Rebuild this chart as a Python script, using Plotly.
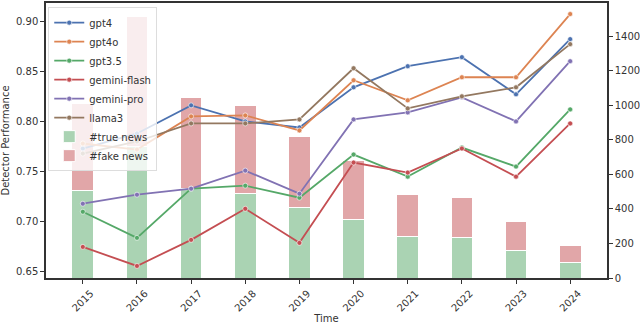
import plotly.graph_objects as go

years = [2015, 2016, 2017, 2018, 2019, 2020, 2021, 2022, 2023, 2024]
gpt4 = [0.773, 0.788, 0.816, 0.800, 0.794, 0.834, 0.855, 0.864, 0.827, 0.882]
gpt4o = [0.778, 0.772, 0.805, 0.806, 0.791, 0.841, 0.821, 0.844, 0.844, 0.907]
gpt35 = [0.710, 0.684, 0.733, 0.736, 0.724, 0.767, 0.745, 0.774, 0.755, 0.812]
gemini_flash = [0.675, 0.656, 0.682, 0.713, 0.679, 0.759, 0.749, 0.773, 0.745, 0.798]
gemini_pro = [0.718, 0.727, 0.733, 0.751, 0.728, 0.802, 0.809, 0.824, 0.800, 0.860]
llama3 = [0.768, 0.780, 0.798, 0.798, 0.802, 0.853, 0.813, 0.825, 0.834, 0.877]
true_news = [506, 762, 521, 492, 409, 339, 242, 233, 161, 87]
fake_news = [506, 755, 527, 506, 413, 341, 241, 234, 165, 101]

series = [
    ("gpt4", gpt4, "#4C72B0"),
    ("gpt4o", gpt4o, "#DD8452"),
    ("gpt3.5", gpt35, "#55A868"),
    ("gemini-flash", gemini_flash, "#C44E52"),
    ("gemini-pro", gemini_pro, "#8172B3"),
    ("llama3", llama3, "#937860"),
]

fig = go.Figure()
for name, vals, col in series:
    fig.add_trace(go.Scatter(
        x=years, y=vals, name=name, mode="lines+markers", yaxis="y2",
        line=dict(color=col, width=1.8),
        marker=dict(size=5, color=col, line=dict(color="white", width=0.6)),
    ))

fig.add_trace(go.Bar(x=years, y=true_news, name="#true news", yaxis="y",
                     width=0.4, marker=dict(color="#AAD3B3", line=dict(color="white", width=1))))
fig.add_trace(go.Bar(x=years, y=fake_news, name="#fake news", yaxis="y",
                     width=0.4, marker=dict(color="#E1A6A8", line=dict(color="white", width=1))))

axcol = "#333333"
fig.update_layout(
    width=640, height=324,
    margin=dict(l=46, r=33, t=3, b=46),
    plot_bgcolor="white", paper_bgcolor="white",
    barmode="stack",
    font=dict(family="DejaVu Sans", size=10, color="#333333"),
    showlegend=True,
    legend=dict(x=0.004, y=0.985, xanchor="left", yanchor="top",
                bgcolor="rgba(255,255,255,0.8)", bordercolor="#DDDDDD", borderwidth=1,
                font=dict(size=10), traceorder="normal", tracegroupgap=0),
    xaxis=dict(range=[2014.32, 2024.68], tickmode="array", tickvals=years,
               ticktext=[str(y) for y in years], tickangle=-45,
               showline=True, linecolor=axcol, linewidth=1.5, mirror=True,
               ticks="outside", ticklen=4, tickcolor=axcol, showgrid=False, zeroline=False,
               title=dict(text="Time", font=dict(size=10), standoff=2),
               tickfont=dict(size=10), ticklabelshift=8, automargin=False),
    yaxis=dict(side="right", range=[0, 1593], tickvals=[0, 200, 400, 600, 800, 1000, 1200, 1400],
               showline=True, linecolor=axcol, linewidth=1.5, ticks="outside", ticklen=4,
               tickcolor=axcol, showgrid=False, zeroline=False, tickfont=dict(size=10),
               automargin=False),
    yaxis2=dict(side="left", overlaying="y", range=[0.644, 0.918],
                tickvals=[0.65, 0.70, 0.75, 0.80, 0.85, 0.90],
                ticktext=["0.65", "0.70", "0.75", "0.80", "0.85", "0.90"],
                showline=True, linecolor=axcol, linewidth=1.5, ticks="outside", ticklen=4,
                tickcolor=axcol, showgrid=False, zeroline=False, tickfont=dict(size=10),
                title=dict(text="Detector Performance", font=dict(size=10), standoff=6),
                automargin=False),
)

fig.write_html("out.html", config={"displayModeBar": False},
               post_script="document.body.style.margin='0';")
